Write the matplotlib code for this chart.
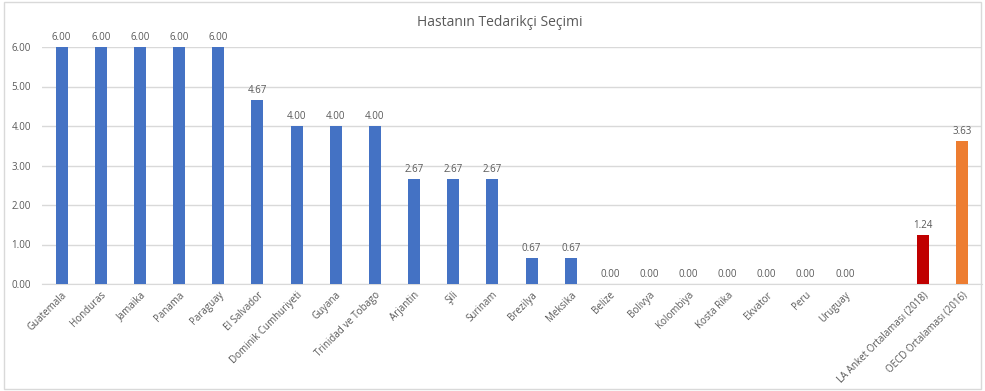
import matplotlib
matplotlib.use("Agg")
import matplotlib.pyplot as plt
from matplotlib.patches import Rectangle

categories = ["Guatemala", "Honduras", "Jamaika", "Panama", "Paraguay", "El Salvador",
              "Dominik Cumhuriyeti", "Guyana", "Trinidad ve Tobago", "Arjantin", "Şili",
              "Surinam", "Brezilya", "Meksika", "Belize", "Bolivya", "Kolombiya",
              "Kosta Rika", "Ekvator", "Peru", "Uruguay", "",
              "LA Anket Ortalaması (2018)", "OECD Ortalaması (2016)"]
values = [6.00, 6.00, 6.00, 6.00, 6.00, 4.67, 4.00, 4.00, 4.00, 2.67, 2.67, 2.67,
          0.67, 0.67, 0.00, 0.00, 0.00, 0.00, 0.00, 0.00, 0.00, None, 1.24, 3.63]
colors = ["#4472C4"] * 21 + ["none", "#C00000", "#ED7D31"]
yticks = [0, 1, 2, 3, 4, 5, 6]

plt.rcParams['font.family'] = ['Open Sans', 'DejaVu Sans']
txt = "#595959"

fig = plt.figure(figsize=(9.85, 3.91), dpi=100)
ax = fig.add_axes([42/985, 1 - 284/391, 940/985, (284 - 47)/391])
fig.patches.append(Rectangle((0.004, 0.004), 0.992, 0.99, transform=fig.transFigure,
                             fill=False, edgecolor="#D9D9D9", linewidth=1))

x = list(range(len(categories)))
h = [v if v is not None else 0 for v in values]
ax.bar(x, h, width=0.31, color=colors, zorder=3)
for xi, v in zip(x, values):
    if v is None:
        continue
    ax.text(xi, v + 0.1, f"{v:.2f}", ha="center", va="bottom", fontsize=7, color=txt)

ax.set_xlim(-0.5, len(categories) - 0.5)
ax.set_ylim(0, 6)
ax.set_yticks(yticks)
ax.set_yticklabels([f"{t:.2f}" for t in yticks], fontsize=7, color=txt)
ax.set_xticks(x)
ax.set_xticklabels(categories, rotation=45, ha="right", rotation_mode="anchor",
                   fontsize=7, color=txt)
ax.tick_params(axis="both", length=0, pad=4)
ax.tick_params(axis="y", pad=8)
ax.grid(axis="y", color="#D9D9D9", linewidth=1, zorder=0)
for s in ["top", "right", "left"]:
    ax.spines[s].set_visible(False)
ax.spines["bottom"].set_color("#D9D9D9")

fig.text(500/985, 1 - 22/391, "Hastanın Tedarikçi Seçimi", ha="center", va="center",
         fontsize=10, color=txt)

fig.savefig("out.png", dpi=100)
